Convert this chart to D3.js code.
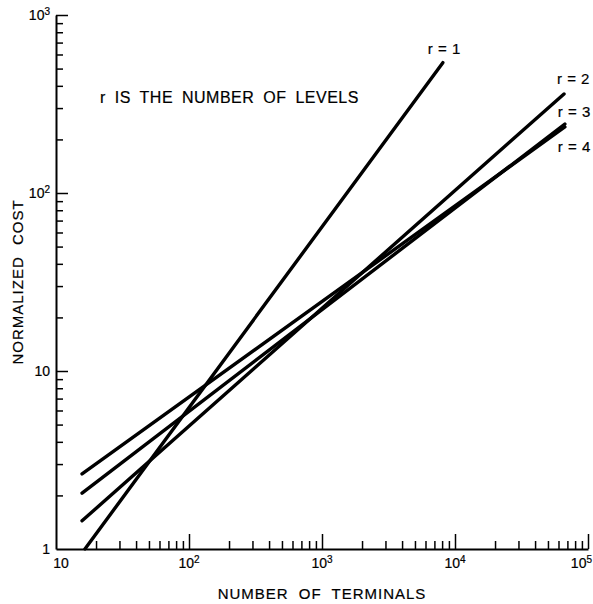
<!DOCTYPE html>
<html>
<head>
<meta charset="utf-8">
<script src="https://cdn.jsdelivr.net/npm/d3@7"></script>
<style>
  body { margin: 0; background: #fff; }
  svg { display: block; font-family: 'Liberation Sans', Arial, sans-serif; }
  svg text { fill: #000; stroke: #000; stroke-width: 0.2; }
  .axis path, .axis line { stroke: #000; }
  .axis path { stroke-width: 2; }
  .axis line { stroke-width: 1.5; }
</style>
</head>
<body>
<svg id="chart" width="593" height="604"></svg>
<script>
// endpoints of each curve: [number of terminals, normalized cost]
const r1 = [[16.5, 1], [8100, 540]]
const r2 = [[15.7, 1.44], [66000, 360]]
const r3 = [[15.7, 2.06], [67000, 244]]
const r4 = [[15.7, 2.64], [67000, 235]]
const seriesLabels = ['r = 1', 'r = 2', 'r = 3', 'r = 4']
const xExponents = [1, 2, 3, 4, 5]
const yExponents = [0, 1, 2, 3]
const note = 'r IS THE NUMBER OF LEVELS'
const xTitle = 'NUMBER OF TERMINALS'
const yTitle = 'NORMALIZED COST'

const margin = { top: 15, right: 5, bottom: 55, left: 56 }
const W = 593
const H = 604

const svg = d3.select('#chart')

const x = d3.scaleLog().domain([10, 1e5]).range([margin.left, W - margin.right])
const y = d3.scaleLog().domain([1, 1e3]).range([H - margin.bottom, margin.top])

// minor ticks 2..9 within each decade
function minors (exps) {
  const out = []
  exps.slice(0, -1).forEach(e => {
    for (let k = 2; k < 10; k++) out.push(k * Math.pow(10, e))
  })
  return out
}
const xMajor = xExponents.map(e => Math.pow(10, e))
const yMajor = yExponents.map(e => Math.pow(10, e))

const x0 = y.range()[0]
const y0 = x.range()[0]

svg.append('g')
    .attr('class', 'axis')
    .attr('transform', `translate(0,${x0})`)
    .call(d3.axisBottom(x).tickValues(minors(xExponents)).tickSize(-8).tickSizeOuter(0).tickFormat(''))
svg.append('g')
    .attr('class', 'axis')
    .attr('transform', `translate(0,${x0})`)
    .call(d3.axisBottom(x).tickValues(xMajor.slice(1)).tickSize(-15).tickSizeOuter(0).tickFormat(''))
  .select('.domain').remove()

svg.append('g')
    .attr('class', 'axis')
    .attr('transform', `translate(${y0},0)`)
    .call(d3.axisLeft(y).tickValues(minors(yExponents)).tickSize(-7).tickSizeOuter(0).tickFormat(''))
svg.append('g')
    .attr('class', 'axis')
    .attr('transform', `translate(${y0},0)`)
    .call(d3.axisLeft(y).tickValues(yMajor.slice(1)).tickSize(-12).tickSizeOuter(0).tickFormat(''))
  .select('.domain').remove()

// power-of-ten labels
function powLabel (sel, e) {
  if (e === 0) { sel.append('tspan').text('1'); return }
  sel.append('tspan').text('10')
  if (e > 1) {
    sel.append('tspan').attr('dy', -5).attr('font-size', 10).text(e)
  }
}

svg.append('g').selectAll('text')
    .data(xExponents)
  .enter().append('text')
    .attr('x', (d, i) => x(Math.pow(10, d)) + (i === 0 ? 5 : 0))
    .attr('y', x0 + 19)
    .attr('text-anchor', (d, i) => i === xExponents.length - 1 ? 'end' : 'middle')
    .attr('dx', (d, i) => i === xExponents.length - 1 ? 4 : 0)
    .attr('font-size', 14)
    .each(function (d) { powLabel(d3.select(this), d) })

svg.append('g').selectAll('text')
    .data(yExponents)
  .enter().append('text')
    .attr('x', y0 - 6)
    .attr('y', d => y(Math.pow(10, d)) + 5)
    .attr('text-anchor', 'end')
    .attr('font-size', 14)
    .each(function (d) { powLabel(d3.select(this), d) })

// curves
const series = [r1, r2, r3, r4]
const line = d3.line().x(d => x(d[0])).y(d => y(d[1]))

svg.append('g').selectAll('path')
    .data(series)
  .enter().append('path')
    .attr('d', line)
    .attr('fill', 'none')
    .attr('stroke', '#000')
    .attr('stroke-width', 3.4)
    .attr('stroke-linecap', 'round')

const labelOffsets = [[-15, -9], [-7, -10], [-7, -7], [-7, 25]]
svg.append('g').selectAll('text')
    .data(series)
  .enter().append('text')
    .attr('x', (d, i) => x(d[1][0]) + labelOffsets[i][0])
    .attr('y', (d, i) => y(d[1][1]) + labelOffsets[i][1])
    .attr('font-size', 15)
    .attr('word-spacing', 1)
    .text((d, i) => seriesLabels[i])

svg.append('text')
    .attr('x', 100)
    .attr('y', 103)
    .attr('font-size', 16)
    .attr('letter-spacing', 0.5)
    .attr('word-spacing', 4)
    .text(note)

svg.append('text')
    .attr('x', (x.range()[0] + x.range()[1]) / 2)
    .attr('y', 599)
    .attr('text-anchor', 'middle')
    .attr('font-size', 15)
    .attr('letter-spacing', 1)
    .attr('word-spacing', 5)
    .text(xTitle)

svg.append('text')
    .attr('transform', `translate(23,${(y.range()[0] + y.range()[1]) / 2}) rotate(-90)`)
    .attr('text-anchor', 'middle')
    .attr('font-size', 15)
    .attr('letter-spacing', 1)
    .attr('word-spacing', 6)
    .text(yTitle)
</script>
</body>
</html>
